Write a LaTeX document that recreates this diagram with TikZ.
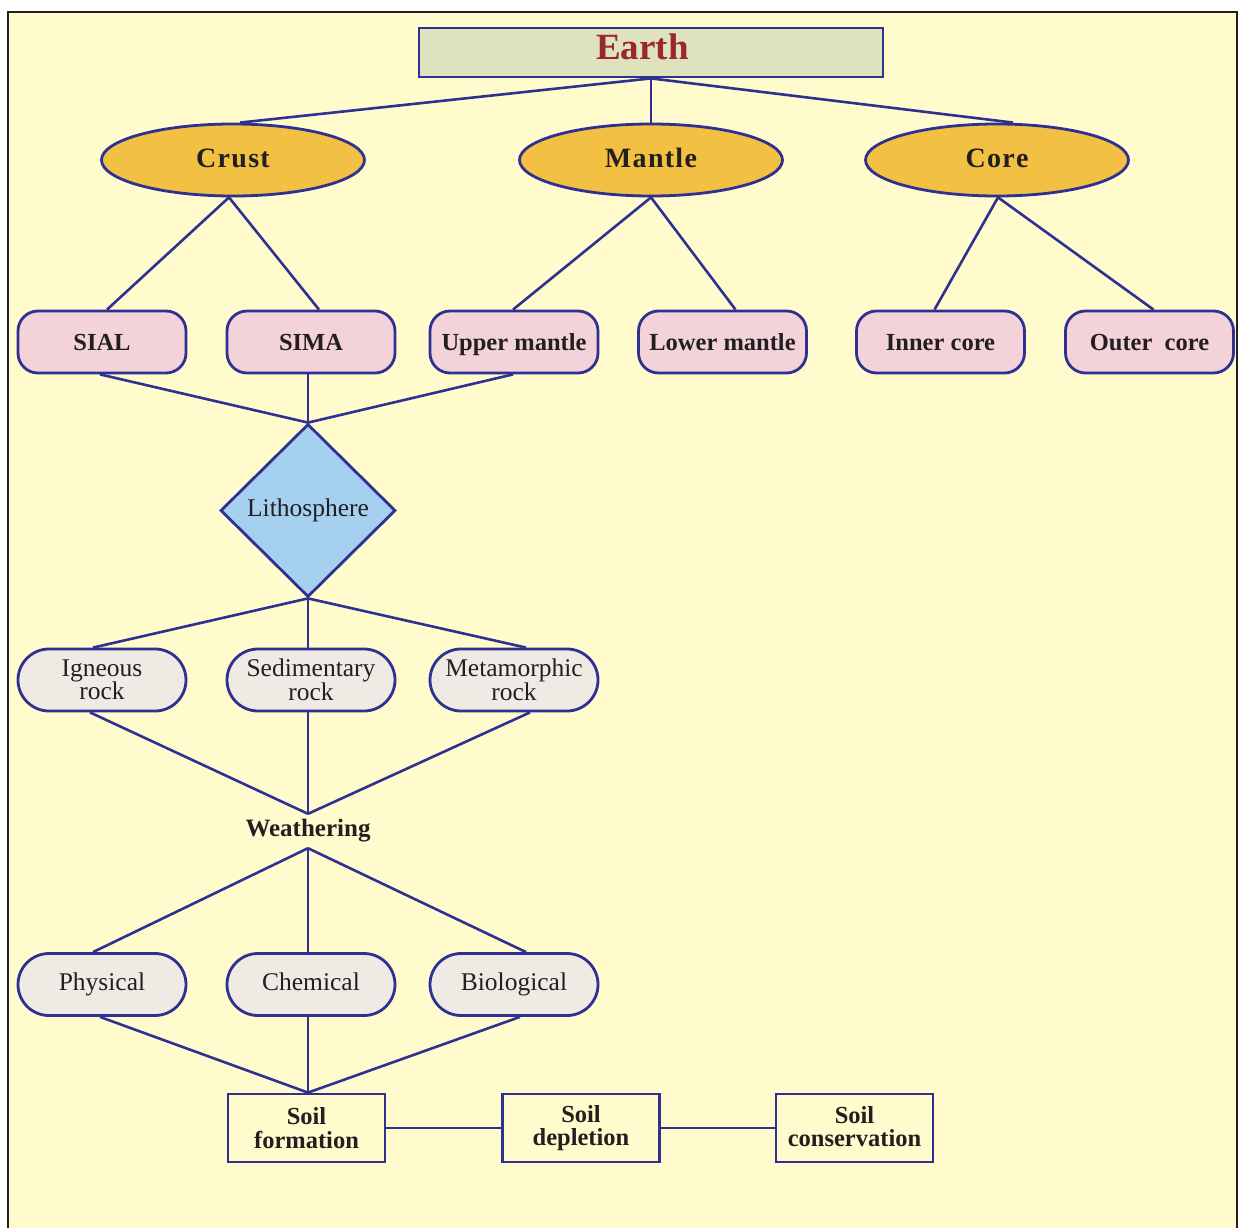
\documentclass[tikz,border=0pt]{standalone}
\usepackage{fontspec}
\setmainfont{Liberation Serif}
\usetikzlibrary{shapes.geometric}
\definecolor{bgyellow}{HTML}{FFFBCC}
\definecolor{lineblue}{HTML}{2E3192}
\definecolor{earthfill}{HTML}{DEE3BD}
\definecolor{earthtext}{HTML}{9B2630}
\definecolor{ellfill}{HTML}{F2C042}
\definecolor{pinkfill}{HTML}{F3D3D9}
\definecolor{diafill}{HTML}{A5D0F0}
\definecolor{greyfill}{HTML}{EFEBE4}
\definecolor{inkblack}{HTML}{231F20}
\newcommand{\spc}{\kern1.3pt}
\tikzset{
  conn/.style={draw=lineblue, line width=2.6pt},
  earthbox/.style={draw=lineblue, line width=2.8pt, fill=earthfill, minimum width=464pt, minimum height=49pt, inner sep=0pt, text=earthtext, text height=24.5pt, text depth=0pt, font=\fontsize{37}{40}\selectfont\bfseries},
  layer/.style={ellipse, draw=lineblue, line width=2.8pt, fill=ellfill, minimum width=263pt, minimum height=72pt, inner sep=0pt, text=inkblack, text height=18.5pt, text depth=0pt, font=\fontsize{28}{30}\selectfont\bfseries},
  subbox/.style={rectangle, rounded corners=20pt, draw=lineblue, line width=2.8pt, fill=pinkfill, minimum width=168pt, minimum height=62pt, inner sep=0pt, text=inkblack, text height=16.2pt, text depth=0pt, font=\fontsize{24.5}{26}\selectfont\bfseries},
  diabox/.style={diamond, shape aspect=1, draw=lineblue, line width=2.8pt, fill=diafill, minimum width=175pt, minimum height=173pt, inner sep=0pt, text=inkblack, text height=16.8pt, text depth=0pt, font=\fontsize{25.5}{27}\selectfont},
  pill/.style={rectangle, rounded corners=31pt, draw=lineblue, line width=2.8pt, fill=greyfill, minimum width=168pt, minimum height=62pt, inner sep=0pt, text=inkblack, align=center, font=\fontsize{25.5}{23.5}\selectfont},
  onepill/.style={pill, text height=16.8pt, text depth=0pt},
  soilbox/.style={rectangle, draw=lineblue, line width=2.8pt, fill=bgyellow, minimum width=157pt, minimum height=68pt, inner sep=0pt, text=inkblack, align=center, font=\fontsize{24.5}{23.5}\selectfont\bfseries},
  plainlabel/.style={inner sep=0pt, minimum height=34pt, text=inkblack, font=\fontsize{25}{27}\selectfont\bfseries}
}
\begin{document}
\begin{tikzpicture}[x=1pt, y=-1pt]
\useasboundingbox (0,0) rectangle (1239,1228);
\fill[white] (0,0) rectangle (1239,1228);
\fill[bgyellow] (8,12) rectangle (1237,1232);
\draw[inkblack, line width=2.2pt] (8,1235) -- (8,12) -- (1237,12) -- (1237,1235);

% top
\node[earthbox] (earth) at (651,52.5) {\raisebox{5pt}{Earth}\hspace*{17pt}};
\node[layer] (crust) at (233,160) {\raisebox{2pt}{C\spc r\spc u\spc s\spc t}};
\node[layer] (mantle) at (651,160) {\raisebox{2pt}{M\spc a\spc n\spc t\spc l\spc e}};
\node[layer] (core) at (997,160) {\raisebox{2pt}{C\spc o\spc r\spc e}};

\draw[conn] (earth.south) -- ([xshift=7pt]crust.north);
\draw[conn] (earth.south) -- (mantle.north);
\draw[conn] (earth.south) -- ([xshift=16pt]core.north);

% sub layers
\node[subbox] (sial) at (102,342) {SIAL};
\node[subbox] (sima) at (311,342) {SIMA};
\node[subbox] (upper) at (514,342) {Upper mantle};
\node[subbox] (lower) at (722.5,342) {Lower mantle};
\node[subbox] (inner) at (940.5,342) {Inner core};
\node[subbox] (outer) at (1149.5,342) {Outer\ \ core};

\draw[conn] ([xshift=-4pt]crust.south) -- ([xshift=5pt]sial.north);
\draw[conn] ([xshift=-4pt]crust.south) -- ([xshift=8pt]sima.north);
\draw[conn] (mantle.south) -- ([xshift=-1pt]upper.north);
\draw[conn] (mantle.south) -- ([xshift=13pt]lower.north);
\draw[conn] ([xshift=1pt]core.south) -- ([xshift=-6pt]inner.north);
\draw[conn] ([xshift=1pt]core.south) -- ([xshift=4pt]outer.north);

% lithosphere
\node[diabox] (litho) at (308,510.5) {\raisebox{2pt}{Lithosphere}};
\draw[conn] ([xshift=-2pt]sial.south) -- (litho.north);
\draw[conn] ([xshift=-3pt]sima.south) -- (litho.north);
\draw[conn] ([xshift=-1pt]upper.south) -- (litho.north);

% rocks
\node[pill] (igneous) at (102,680) {Igneous\\rock};
\node[pill] (sedim) at (311,680) {Sedimentary\\rock};
\node[pill] (metam) at (514,680) {Metamorphic\\rock};
\draw[conn] (litho.south) -- ([xshift=-9pt]igneous.north);
\draw[conn] (litho.south) -- ([xshift=-3pt]sedim.north);
\draw[conn] (litho.south) -- ([xshift=12pt]metam.north);

% weathering
\node[plainlabel] (weather) at (308,831) {Weathering};
\draw[conn] ([xshift=-12pt]igneous.south) -- (weather.north);
\draw[conn] ([xshift=-3pt]sedim.south) -- (weather.north);
\draw[conn] ([xshift=16pt]metam.south) -- (weather.north);

% types
\node[onepill] (phys) at (102,984.5) {\raisebox{2pt}{Physical}};
\node[onepill] (chem) at (311,984.5) {\raisebox{2pt}{Chemical}};
\node[onepill] (bio) at (514,984.5) {\raisebox{2pt}{Biological}};
\draw[conn] (weather.south) -- ([xshift=-9pt]phys.north);
\draw[conn] (weather.south) -- ([xshift=-3pt]chem.north);
\draw[conn] (weather.south) -- ([xshift=12pt]bio.north);

% soil
\node[soilbox] (sform) at (306.5,1128) {Soil\\formation};
\node[soilbox] (sdepl) at (581,1128) {Soil\\depletion};
\node[soilbox] (scons) at (854.5,1128) {\raisebox{3pt}{Soil}\\\raisebox{3pt}{conservation}};
\draw[conn] ([xshift=-2pt]phys.south) -- ([xshift=1.5pt]sform.north);
\draw[conn] ([xshift=-3pt]chem.south) -- ([xshift=1.5pt]sform.north);
\draw[conn] ([xshift=6pt]bio.south) -- ([xshift=1.5pt]sform.north);
\draw[conn] (sform.east) -- (sdepl.west);
\draw[conn] (sdepl.east) -- (scons.west);
\end{tikzpicture}
\end{document}
